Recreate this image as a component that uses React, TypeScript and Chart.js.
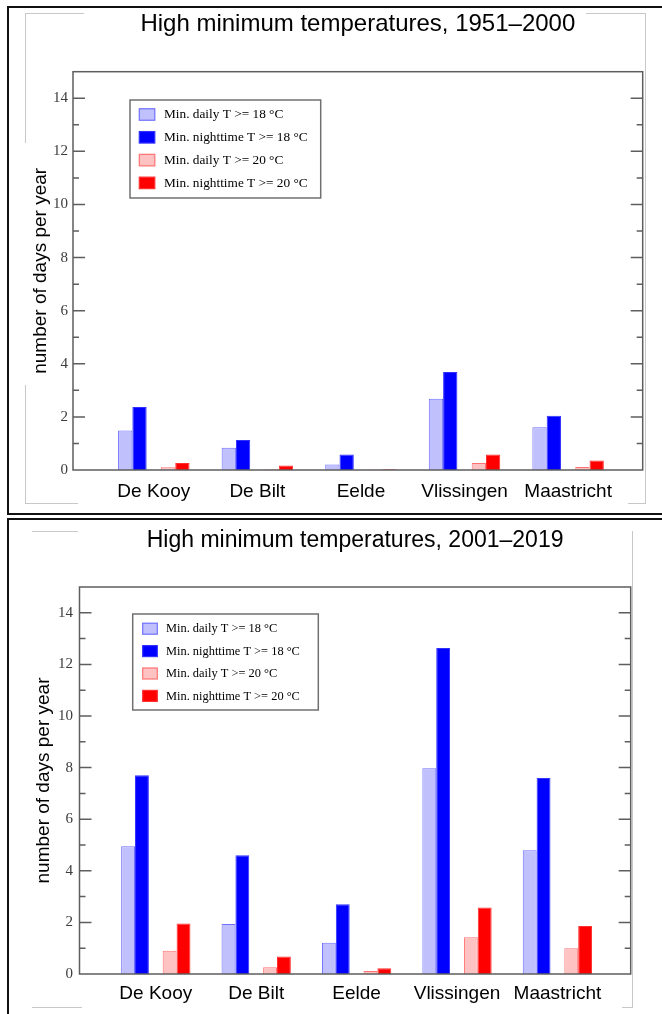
import React, { useEffect, useRef } from "react";
import { Chart, registerables } from "chart.js";

Chart.register(...registerables);

// ---------- data ----------
const stations = ["De Kooy", "De Bilt", "Eelde", "Vlissingen", "Maastricht"];
const seriesLabels = [
  "Min. daily T >= 18 °C",
  "Min. nighttime T >= 18 °C",
  "Min. daily T >= 20 °C",
  "Min. nighttime T >= 20 °C",
];
const seriesFill = ["#c0c0fc", "#0000ff", "#ffc2c2", "#ff0000"];
const seriesBorder = ["#7070ff", "#3030ff", "#ff7272", "#ff3030"];
const yTickValues = [0, 2, 4, 6, 8, 10, 12, 14];
const yMax = 15;

// 1951–2000
const daily18_1951 = [1.49, 0.84, 0.21, 2.68, 1.61];
const night18_1951 = [2.37, 1.13, 0.58, 3.69, 2.04];
const daily20_1951 = [0.1, 0.03, 0.02, 0.26, 0.11];
const night20_1951 = [0.26, 0.17, 0.03, 0.58, 0.36];

// 2001–2019
const daily18_2001 = [4.95, 1.94, 1.21, 7.97, 4.8];
const night18_2001 = [7.7, 4.6, 2.7, 12.64, 7.6];
const daily20_2001 = [0.9, 0.26, 0.12, 1.42, 1.0];
const night20_2001 = [1.96, 0.68, 0.22, 2.58, 1.86];

const title1951 = "High minimum temperatures, 1951–2000";
const title2001 = "High minimum temperatures, 2001–2019";
const yTitle = "number of days per year";

// ---------- layout ----------
type LegendGeom = {
  dx: number; dy: number; w: number; h: number;
  swX: number; swW: number; swH: number; textX: number;
  row0: number; rowStep: number; font: number;
};
type Geom = {
  canvasTop: number; canvasHeight: number;
  padLeft: number; padRight: number; padTop: number;
  yAxisWidth: number; xAxisHeight: number;
  titleSize: number; titlePadTop: number; titlePadBottom: number;
  yTitlePad: number; yTickPad: number; xTickPad: number; yTickSize: number;
  xMin: number; xMax: number;
  legend: LegendGeom;
};

const geomTop: Geom = {
  canvasTop: 0, canvasHeight: 513,
  padLeft: 22, padRight: 19.3, padTop: 9,
  yAxisWidth: 51, xAxisHeight: 43,
  titleSize: 24, titlePadTop: 1, titlePadBottom: 32.9,
  yTitlePad: 7.6, yTickPad: 5, xTickPad: 10, yTickSize: 15,
  xMin: 0.22, xMax: 5.72,
  legend: { dx: 57, dy: 28.3, w: 190.7, h: 98, swX: 9.3, swW: 15.5, swH: 11.5, textX: 34, row0: 14.5, rowStep: 22.8, font: 13.3 },
};

const geomBottom: Geom = {
  canvasTop: 520, canvasHeight: 494,
  padLeft: 26, padRight: 31.3, padTop: 2,
  yAxisWidth: 53.5, xAxisHeight: 40,
  titleSize: 23, titlePadTop: 5.2, titlePadBottom: 32.2,
  yTitlePad: 6.6, yTickPad: 6.5, xTickPad: 8.7, yTickSize: 15,
  xMin: 0.24, xMax: 5.73,
  legend: { dx: 53.2, dy: 27, w: 185.6, h: 96, swX: 10, swW: 14.6, swH: 11, textX: 33.3, row0: 14.7, rowStep: 22.4, font: 12.4 },
};

function Panel({ title, series, geom }: { title: string; series: number[][]; geom: Geom }) {
  const ref = useRef<HTMLCanvasElement>(null);
  useEffect(() => {
    const g = geom;
    const mk = (i: number) => ({
      label: seriesLabels[i],
      data: series[i].map((v, k) => ({ x: k + 1, y: v })),
      backgroundColor: seriesFill[i],
      borderColor: seriesBorder[i],
      borderWidth: 1,
      barPercentage: 1,
      categoryPercentage: 0.69,
    });
    const spacer = {
      label: "",
      data: stations.map((_, k) => ({ x: k + 1, y: null })),
      backgroundColor: "rgba(0,0,0,0)",
      borderWidth: 0,
      barPercentage: 1,
      categoryPercentage: 0.69,
    };

    const framePlugin = {
      id: "frameTicks",
      afterDatasetsDraw(chart: any) {
        const { ctx, chartArea: a, scales } = chart;
        const y = scales.y;
        ctx.save();
        ctx.strokeStyle = "#5e5e5e";
        ctx.lineWidth = 1.5;
        for (let v = 1; v < yMax; v++) {
          const py = y.getPixelForValue(v);
          const len = v % 2 === 0 ? 12 : 6;
          ctx.beginPath();
          ctx.moveTo(a.left, py);
          ctx.lineTo(a.left + len, py);
          ctx.moveTo(a.right, py);
          ctx.lineTo(a.right - len, py);
          ctx.stroke();
        }
        ctx.strokeRect(a.left, a.top, a.right - a.left, a.bottom - a.top);
        ctx.restore();
      },
    };

    const legendPlugin = {
      id: "boxLegend",
      afterDraw(chart: any) {
        const { ctx, chartArea: a } = chart;
        const L = g.legend;
        const x0 = a.left + L.dx;
        const y0 = a.top + L.dy;
        ctx.save();
        ctx.fillStyle = "#ffffff";
        ctx.fillRect(x0, y0, L.w, L.h);
        ctx.strokeStyle = "#707070";
        ctx.lineWidth = 1.5;
        ctx.strokeRect(x0, y0, L.w, L.h);
        const items = chart.data.datasets.filter((d: any) => d.label);
        items.forEach((d: any, i: number) => {
          const cy = y0 + L.row0 + i * L.rowStep;
          ctx.fillStyle = d.backgroundColor;
          ctx.fillRect(x0 + L.swX, cy - L.swH / 2, L.swW, L.swH);
          ctx.strokeStyle = d.borderColor;
          ctx.lineWidth = 1.2;
          ctx.strokeRect(x0 + L.swX, cy - L.swH / 2, L.swW, L.swH);
          ctx.fillStyle = "#000";
          ctx.font = `${L.font}px "Liberation Serif", "DejaVu Serif", serif`;
          ctx.textBaseline = "middle";
          ctx.textAlign = "left";
          ctx.fillText(d.label, x0 + L.textX, cy + 0.5);
        });
        ctx.restore();
      },
    };

    const chart = new Chart(ref.current as HTMLCanvasElement, {
      type: "bar",
      data: { datasets: [mk(0), mk(1), spacer as any, mk(2), mk(3)] },
      options: {
        animation: false,
        responsive: false,
        devicePixelRatio: 1,
        layout: { padding: { left: g.padLeft, right: g.padRight, top: g.padTop, bottom: 0 } },
        plugins: {
          legend: { display: false },
          tooltip: { enabled: false },
          title: {
            display: true,
            text: title,
            fullSize: false,
            color: "#000",
            font: { family: '"Liberation Sans", Arial, sans-serif', size: g.titleSize, weight: "normal" },
            padding: { top: g.titlePadTop, bottom: g.titlePadBottom },
          },
        },
        scales: {
          x: {
            type: "linear",
            offset: false,
            min: g.xMin,
            max: g.xMax,
            grid: { display: false, drawTicks: false, offset: false },
            border: { display: false },
            afterBuildTicks: (s: any) => {
              s.ticks = stations.map((_, k) => ({ value: k + 1 }));
            },
            afterFit: (s: any) => {
              s.height = g.xAxisHeight;
            },
            ticks: {
              autoSkip: false,
              maxRotation: 0,
              padding: g.xTickPad,
              color: "#000",
              font: { family: '"Liberation Sans", Arial, sans-serif', size: 19 },
              callback: (v: any) => stations[Math.round(v) - 1] ?? "",
            },
          },
          y: {
            type: "linear",
            min: 0,
            max: yMax,
            grid: { display: false, drawTicks: false },
            border: { display: false },
            afterBuildTicks: (s: any) => {
              s.ticks = yTickValues.map((v) => ({ value: v }));
            },
            afterFit: (s: any) => {
              s.width = g.yAxisWidth;
            },
            ticks: {
              padding: g.yTickPad,
              color: "#3c3c3c",
              font: { family: '"Liberation Serif", "Times New Roman", serif', size: g.yTickSize },
            },
            title: {
              display: true,
              text: yTitle,
              color: "#000",
              font: { family: '"Liberation Sans", Arial, sans-serif', size: 19 },
              padding: { top: g.yTitlePad, bottom: 0 },
            },
          },
        },
      },
      plugins: [framePlugin, legendPlugin],
    } as any);
    return () => chart.destroy();
  }, []);
  return (
    <canvas
      ref={ref}
      width={662}
      height={geom.canvasHeight}
      style={{ position: "absolute", left: 0, top: geom.canvasTop, width: 662, height: geom.canvasHeight }}
    />
  );
}

const faint = "#c8c8c8";
function Line({ x, y, w, h }: { x: number; y: number; w: number; h: number }) {
  return <div style={{ position: "absolute", left: x, top: y, width: w, height: h, background: faint }} />;
}

export default function App() {
  return (
    <div style={{ position: "absolute", left: 0, top: 0, width: 662, height: 1014, overflow: "hidden", background: "#fff" }}>
      {/* faint frame remnants, top panel */}
      <Line x={25} y={13} w={59} h={1} />
      <Line x={586} y={13} w={60} h={1} />
      <Line x={25} y={13} w={1} h={130} />
      <Line x={25} y={385} w={1} h={119} />
      <Line x={645} y={13} w={1} h={491} />
      <Line x={25} y={503} w={53} h={1} />
      <Line x={628} y={503} w={18} h={1} />
      {/* faint frame remnants, bottom panel */}
      <Line x={32} y={531} w={46} h={1} />
      <Line x={632} y={531} w={1} h={476} />
      <Line x={32} y={1007} w={50} h={1} />
      <Line x={622} y={1007} w={11} h={1} />

      <Panel title={title1951} series={[daily18_1951, night18_1951, daily20_1951, night20_1951]} geom={geomTop} />
      <Panel title={title2001} series={[daily18_2001, night18_2001, daily20_2001, night20_2001]} geom={geomBottom} />

      {/* black panel frames */}
      <div style={{ position: "absolute", left: 7, top: 6, width: 720, height: 509, border: "2px solid #111", boxSizing: "border-box" }} />
      <div style={{ position: "absolute", left: 7, top: 518, width: 720, height: 560, border: "2px solid #111", boxSizing: "border-box" }} />
    </div>
  );
}
